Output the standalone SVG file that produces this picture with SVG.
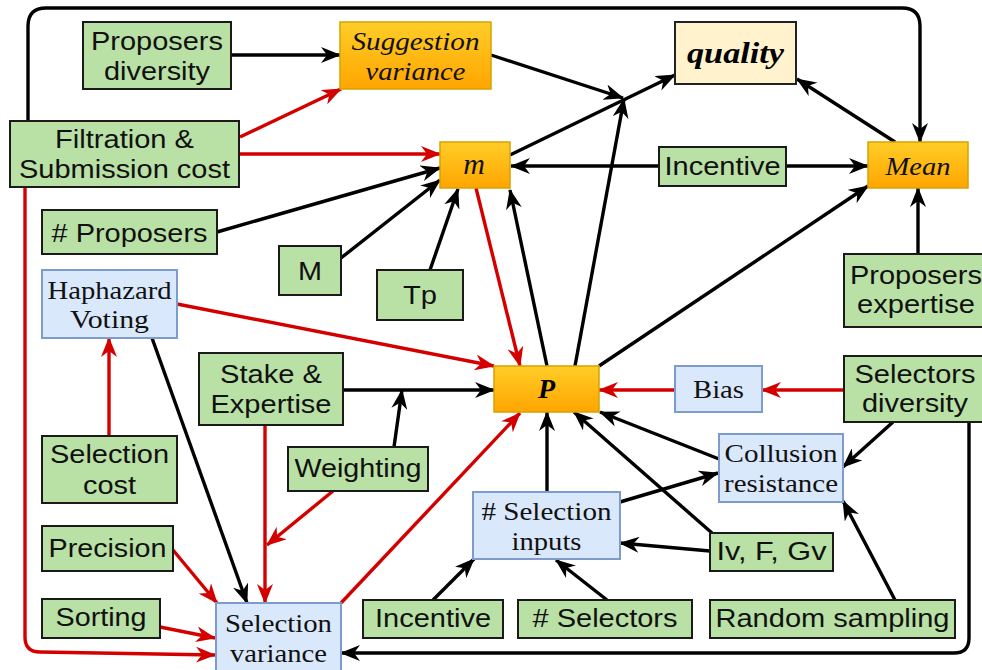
<svg xmlns="http://www.w3.org/2000/svg" width="982" height="670" viewBox="0 0 982 670">
  <defs>
    <linearGradient id="orangeFill" x1="0" y1="0" x2="0" y2="1">
      <stop offset="0" stop-color="#ffcd28"/>
      <stop offset="1" stop-color="#ffa500"/>
    </linearGradient>
    <marker id="ahBlack" viewBox="0 0 20 16" refX="19" refY="8" markerWidth="20" markerHeight="16" markerUnits="userSpaceOnUse" orient="auto">
      <path d="M0,0 L20,8 L0,16 L6,8 z" fill="#000"/>
    </marker>
    <marker id="ahRed" viewBox="0 0 20 16" refX="19" refY="8" markerWidth="20" markerHeight="16" markerUnits="userSpaceOnUse" orient="auto">
      <path d="M0,0 L20,8 L0,16 L6,8 z" fill="#d40000"/>
    </marker>
  </defs>
  <style>
    .green { fill: #b9e0a5; stroke: #1a1a1a; stroke-width: 2; }
    .blue { fill: #dae8fc; stroke: #7d9ccc; stroke-width: 2; }
    .orange { fill: url(#orangeFill); stroke: #d7a200; stroke-width: 1.5; }
    .cream { fill: #fff2cc; stroke: #222; stroke-width: 2; }
    .sans { font-family: "Liberation Sans", Arial, sans-serif; font-size: 25px; fill: #111; text-anchor: middle; }
    .serif { font-family: "Liberation Serif", "Times New Roman", serif; font-size: 26px; fill: #111; text-anchor: middle; }
    .ital { font-family: "Liberation Serif", "Times New Roman", serif; font-size: 26px; font-style: italic; fill: #111; text-anchor: middle; }
    .bital { font-family: "Liberation Serif", "Times New Roman", serif; font-style: italic; font-weight: bold; fill: #000; text-anchor: middle; }
    .blk { fill: none; stroke: #000; stroke-width: 3.4; marker-end: url(#ahBlack); }
    .red { fill: none; stroke: #d40000; stroke-width: 3.4; marker-end: url(#ahRed); }
  </style>
  <rect width="982" height="670" fill="#fff"/>

  <g id="connectors">
    <!-- black influences -->
    <path class="blk" d="M231,55 L340,55"/>
    <path class="blk" d="M491,55 L623,98"/>
    <path class="blk" d="M510,155 L675,75"/>
    <path class="blk" d="M575,366 L624,99"/>
    <path class="blk" d="M895,142 L797,79"/>
    <path class="blk" d="M659,166 L511,166"/>
    <path class="blk" d="M786,166 L868,166"/>
    <path class="blk" d="M217,232 L440,168"/>
    <path class="blk" d="M341,258 L440,180"/>
    <path class="blk" d="M430,270 L458,189"/>
    <path class="blk" d="M547,366 L510,190"/>
    <path class="blk" d="M599,366 L868,186"/>
    <path class="blk" d="M918,254 L918,188"/>
    <path class="blk" d="M28,121 L28,26 Q28,8 46,8 L902,8 Q920,8 920,26 L920,142"/>
    <path class="blk" d="M343,390 L494,390"/>
    <path class="blk" d="M394,447 L402,390"/>
    <path class="blk" d="M152,338 L247,603"/>
    <path class="blk" d="M547,492 L547,412"/>
    <path class="blk" d="M620,502 L718,473"/>
    <path class="blk" d="M710,551 L620,543"/>
    <path class="blk" d="M712,533 L574,412"/>
    <path class="blk" d="M719,459 L600,412"/>
    <path class="blk" d="M893,422 L843,467"/>
    <path class="blk" d="M895,600 L843,501"/>
    <path class="blk" d="M607,600 L556,560"/>
    <path class="blk" d="M433,600 L474,559"/>
    <path class="blk" d="M969,422 L969,638 Q969,653 954,653 L341,653"/>
    <!-- red influences -->
    <path class="red" d="M240,137 L341,89"/>
    <path class="red" d="M239,154 L440,154"/>
    <path class="red" d="M476,188 L520,366"/>
    <path class="red" d="M177,304 L494,366"/>
    <path class="red" d="M109,436 L109,338"/>
    <path class="red" d="M265,425 L265,603"/>
    <path class="red" d="M333,491 L267,545"/>
    <path class="red" d="M173,550 L217,603"/>
    <path class="red" d="M160,627 L215,638"/>
    <path class="red" d="M25,187 L25,637 Q25,652 40,652 L215,655"/>
    <path class="red" d="M341,603 L520,413"/>
    <path class="red" d="M844,390 L762,390"/>
    <path class="red" d="M675,390 L599,390"/>
  </g>

  <g id="proposers-diversity">
    <rect class="green" x="83" y="22" width="148" height="67"/>
    <text class="sans" x="157" y="49.5" textLength="132" lengthAdjust="spacingAndGlyphs">Proposers</text>
    <text class="sans" x="157" y="79.5" textLength="106" lengthAdjust="spacingAndGlyphs">diversity</text>
  </g>
  <g id="suggestion-variance">
    <rect class="orange" x="340" y="22" width="151" height="67"/>
    <text class="ital" x="415.5" y="50" textLength="128" lengthAdjust="spacingAndGlyphs">Suggestion</text>
    <text class="ital" x="415.5" y="80" textLength="100" lengthAdjust="spacingAndGlyphs">variance</text>
  </g>
  <g id="quality">
    <rect class="cream" x="675" y="22" width="121" height="62"/>
    <text class="bital" x="735.5" y="63" font-size="30" textLength="97" lengthAdjust="spacingAndGlyphs">quality</text>
  </g>
  <g id="filtration-cost">
    <rect class="green" x="10" y="121" width="229" height="66"/>
    <text class="sans" x="124.5" y="148" textLength="139" lengthAdjust="spacingAndGlyphs">Filtration &amp;</text>
    <text class="sans" x="124.5" y="178" textLength="211" lengthAdjust="spacingAndGlyphs">Submission cost</text>
  </g>
  <g id="m">
    <rect class="orange" x="440" y="142" width="70" height="46"/>
    <text class="ital" x="474" y="174" style="font-size:30px">m</text>
  </g>
  <g id="incentive-top">
    <rect class="green" x="659" y="147" width="127" height="39"/>
    <text class="sans" x="722.5" y="175" textLength="116" lengthAdjust="spacingAndGlyphs">Incentive</text>
  </g>
  <g id="mean">
    <rect class="orange" x="868" y="142" width="100" height="46"/>
    <text class="ital" x="918" y="175" textLength="65" lengthAdjust="spacingAndGlyphs">Mean</text>
  </g>
  <g id="num-proposers">
    <rect class="green" x="42" y="210" width="175" height="44"/>
    <text class="sans" x="129.5" y="242" textLength="156" lengthAdjust="spacingAndGlyphs"># Proposers</text>
  </g>
  <g id="M">
    <rect class="green" x="279" y="246" width="62" height="49"/>
    <text class="sans" x="310" y="280" textLength="24" lengthAdjust="spacingAndGlyphs">M</text>
  </g>
  <g id="Tp">
    <rect class="green" x="377" y="270" width="86" height="50"/>
    <text class="sans" x="420" y="304" textLength="34" lengthAdjust="spacingAndGlyphs">Tp</text>
  </g>
  <g id="haphazard-voting">
    <rect class="blue" x="42" y="270" width="135" height="68"/>
    <text class="serif" x="109.5" y="299" textLength="124" lengthAdjust="spacingAndGlyphs">Haphazard</text>
    <text class="serif" x="109.5" y="328" textLength="79" lengthAdjust="spacingAndGlyphs">Voting</text>
  </g>
  <g id="stake-expertise">
    <rect class="green" x="199" y="353" width="144" height="72"/>
    <text class="sans" x="271" y="383" textLength="102" lengthAdjust="spacingAndGlyphs">Stake &amp;</text>
    <text class="sans" x="271" y="413" textLength="121" lengthAdjust="spacingAndGlyphs">Expertise</text>
  </g>
  <g id="P">
    <rect class="orange" x="494" y="366" width="105" height="46"/>
    <text class="bital" x="546.5" y="398" font-size="28">P</text>
  </g>
  <g id="bias">
    <rect class="blue" x="675" y="366" width="87" height="46"/>
    <text class="serif" x="718.5" y="398" textLength="51" lengthAdjust="spacingAndGlyphs">Bias</text>
  </g>
  <g id="proposers-expertise">
    <rect class="green" x="844" y="254" width="144" height="73"/>
    <text class="sans" x="916" y="284" textLength="132" lengthAdjust="spacingAndGlyphs">Proposers</text>
    <text class="sans" x="916" y="313" textLength="118" lengthAdjust="spacingAndGlyphs">expertise</text>
  </g>
  <g id="selectors-diversity">
    <rect class="green" x="844" y="356" width="144" height="66"/>
    <text class="sans" x="915" y="383" textLength="121" lengthAdjust="spacingAndGlyphs">Selectors</text>
    <text class="sans" x="915" y="412" textLength="106" lengthAdjust="spacingAndGlyphs">diversity</text>
  </g>
  <g id="collusion-resistance">
    <rect class="blue" x="719" y="434" width="124" height="68"/>
    <text class="serif" x="781" y="462" textLength="113" lengthAdjust="spacingAndGlyphs">Collusion</text>
    <text class="serif" x="781" y="492" textLength="114" lengthAdjust="spacingAndGlyphs">resistance</text>
  </g>
  <g id="selection-inputs">
    <rect class="blue" x="473" y="492" width="147" height="67"/>
    <text class="serif" x="546.5" y="520" textLength="130" lengthAdjust="spacingAndGlyphs"># Selection</text>
    <text class="serif" x="546.5" y="550" textLength="70" lengthAdjust="spacingAndGlyphs">inputs</text>
  </g>
  <g id="iv-f-gv">
    <rect class="green" x="710" y="533" width="123" height="38"/>
    <text class="sans" x="771.5" y="560" textLength="110" lengthAdjust="spacingAndGlyphs">Iv, F, Gv</text>
  </g>
  <g id="random-sampling">
    <rect class="green" x="710" y="600" width="245" height="38"/>
    <text class="sans" x="832.5" y="627" textLength="234" lengthAdjust="spacingAndGlyphs">Random sampling</text>
  </g>
  <g id="num-selectors">
    <rect class="green" x="518" y="600" width="174" height="38"/>
    <text class="sans" x="605" y="627" textLength="145" lengthAdjust="spacingAndGlyphs"># Selectors</text>
  </g>
  <g id="incentive-bottom">
    <rect class="green" x="363" y="600" width="140" height="38"/>
    <text class="sans" x="433" y="627" textLength="116" lengthAdjust="spacingAndGlyphs">Incentive</text>
  </g>
  <g id="selection-cost">
    <rect class="green" x="42" y="436" width="135" height="67"/>
    <text class="sans" x="109.5" y="463" textLength="119" lengthAdjust="spacingAndGlyphs">Selection</text>
    <text class="sans" x="109.5" y="494" textLength="53" lengthAdjust="spacingAndGlyphs">cost</text>
  </g>
  <g id="weighting">
    <rect class="green" x="288" y="447" width="140" height="44"/>
    <text class="sans" x="358" y="477" textLength="127" lengthAdjust="spacingAndGlyphs">Weighting</text>
  </g>
  <g id="precision">
    <rect class="green" x="42" y="526" width="131" height="45"/>
    <text class="sans" x="107.5" y="557" textLength="118" lengthAdjust="spacingAndGlyphs">Precision</text>
  </g>
  <g id="sorting">
    <rect class="green" x="42" y="599" width="118" height="39"/>
    <text class="sans" x="101" y="626" textLength="91" lengthAdjust="spacingAndGlyphs">Sorting</text>
  </g>
  <g id="selection-variance">
    <rect class="blue" x="216" y="603" width="125" height="80"/>
    <text class="serif" x="278.5" y="632" textLength="107" lengthAdjust="spacingAndGlyphs">Selection</text>
    <text class="serif" x="278.5" y="662" textLength="97" lengthAdjust="spacingAndGlyphs">variance</text>
  </g>
</svg>
